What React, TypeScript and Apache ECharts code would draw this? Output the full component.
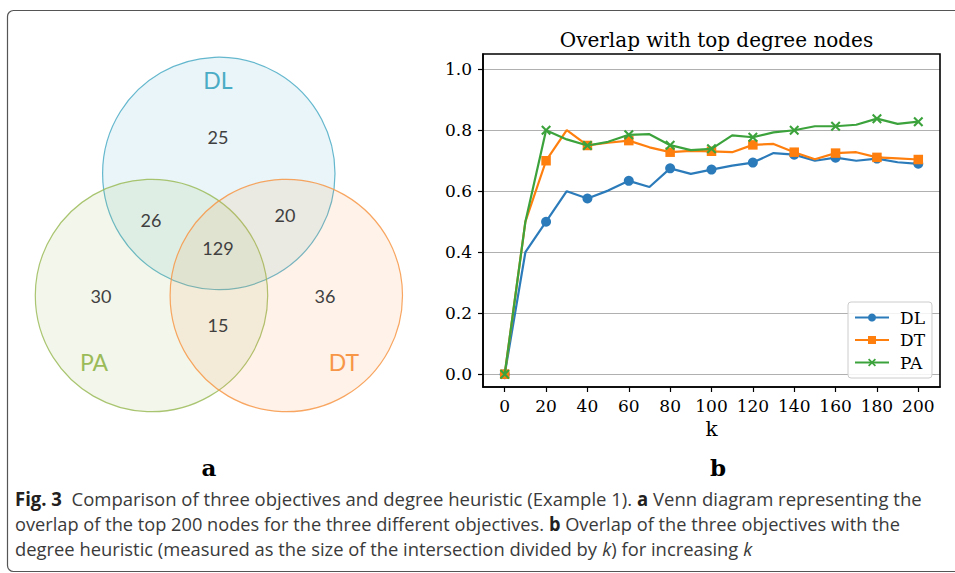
import React, { useEffect, useRef } from "react";
import * as echarts from "echarts";

// ---------- Data ----------
const kValues = [0, 10, 20, 30, 40, 50, 60, 70, 80, 90, 100, 110, 120, 130, 140, 150, 160, 170, 180, 190, 200];
const dlValues = [0, 0.4, 0.5, 0.6, 0.576, 0.602, 0.634, 0.614, 0.675, 0.657, 0.671, 0.684, 0.694, 0.725, 0.72, 0.7, 0.71, 0.7, 0.707, 0.695, 0.69];
const dtValues = [0, 0.5, 0.7, 0.8, 0.75, 0.759, 0.766, 0.744, 0.728, 0.732, 0.731, 0.728, 0.752, 0.755, 0.728, 0.705, 0.725, 0.728, 0.711, 0.708, 0.704];
const paValues = [0, 0.5, 0.8, 0.77, 0.75, 0.762, 0.785, 0.787, 0.751, 0.735, 0.739, 0.783, 0.777, 0.793, 0.8, 0.813, 0.813, 0.818, 0.838, 0.821, 0.828];
const seriesNames = ["DL", "DT", "PA"];
const xTickValues = [0, 20, 40, 60, 80, 100, 120, 140, 160, 180, 200];
const yTickValues = [0, 0.2, 0.4, 0.6, 0.8, 1.0];
const chartTitle = "Overlap with top degree nodes";
const xAxisName = "k";

const vennSetNames = ["DL", "PA", "DT"];
// regions: DL only, DL∩PA, DL∩DT, DL∩PA∩DT, PA only, DT only, PA∩DT
const vennRegionCounts = [25, 26, 20, 129, 30, 36, 15];

const captionLines: [string, string][][] = [
  [["Fig. 3", "b"], ["  Comparison of three objectives and degree heuristic (Example 1). ", "n"], ["a", "b"], [" Venn diagram representing the", "n"]],
  [["overlap of the top 200 nodes for the three different objectives. ", "n"], ["b", "b"], [" Overlap of the three objectives with the", "n"]],
  [["degree heuristic (measured as the size of the intersection divided by ", "n"], ["k", "i"], [") for increasing ", "n"], ["k", "i"]],
];

// ---------- Layout ----------
const SERIF = "DejaVu Serif";
const TICK_SIZE = 17;
const COLORS = ["#2b7bba", "#ff7f0e", "#3ca33c"];
const VENN_COLORS = ["#4bacc6", "#9bbb59", "#f79646"];
const vennCircles = [
  { cx: 218.8, cy: 173.4, r: 116.2 },
  { cx: 151.5, cy: 295.5, r: 116.2 },
  { cx: 286.3, cy: 295.5, r: 116.2 },
];
const vennSetLabelPos = [
  [218, 80],
  [94, 362],
  [344, 362],
];
const vennRegionPos = [
  [218, 137],
  [151, 220],
  [285, 215],
  [218, 248],
  [101, 296],
  [325, 296],
  [218, 325],
];
const captionTargets = [
  { x: 15, y: 498, w: 907 },
  { x: 15, y: 523, w: 885 },
  { x: 15, y: 548, w: 737 },
];
const CAPTION_FONT = "Open Sans";
const CAPTION_SIZE = 19;

const X_MARK = "path://M0,1.5 L1.5,0 L5,3.5 L8.5,0 L10,1.5 L6.5,5 L10,8.5 L8.5,10 L5,6.5 L1.5,10 L0,8.5 L3.5,5 Z";
const symbols = ["circle", "rect", X_MARK];

function measureSegs(segs: [string, string][]) {
  const ctx = document.createElement("canvas").getContext("2d")!;
  let w = 0;
  for (const [t, s] of segs) {
    const style = s === "i" ? "italic " : "";
    const weight = s === "b" ? "bold " : "";
    ctx.font = `${style}${weight}${CAPTION_SIZE}px "${CAPTION_FONT}"`;
    w += ctx.measureText(t).width;
  }
  return w;
}

export default function App() {
  const ref = useRef<HTMLDivElement>(null);
  useEffect(() => {
    if (!ref.current) return;
    const chart = echarts.init(ref.current, undefined, { renderer: "svg" });
    const allValues = [dlValues, dtValues, paValues];

    const series = allValues.map((vals, si) => ({
      name: seriesNames[si],
      type: "line",
      symbol: symbols[si],
      symbolSize: si === 2 ? 10 : si === 0 ? 10 : 9.5,
      showAllSymbol: true,
      lineStyle: { width: 2.2, color: COLORS[si] },
      itemStyle: { color: COLORS[si] },
      data: kValues.map((k, i) => ({
        value: [k, vals[i]],
        symbol: i % 2 === 0 ? symbols[si] : "none",
      })),
      z: 2 + si,
    }));

    const graphics: any[] = [];
    graphics.push({
      type: "rect",
      shape: { x: 7.5, y: 10.5, width: 1100, height: 561, r: 6 },
      style: { fill: "none", stroke: "#555", lineWidth: 1.2 },
      z: 1,
    });
    vennCircles.forEach((c, i) => {
      graphics.push({
        type: "circle",
        shape: { cx: c.cx, cy: c.cy, r: c.r },
        style: {
          fill: echarts.color.modifyAlpha(VENN_COLORS[i], 0.12),
          stroke: echarts.color.modifyAlpha(VENN_COLORS[i], 0.85),
          lineWidth: 1.2,
        },
        z: 2,
      });
    });
    vennSetNames.forEach((n, i) => {
      graphics.push({
        type: "text",
        x: vennSetLabelPos[i][0],
        y: vennSetLabelPos[i][1],
        style: { text: n, fontFamily: "Lato", fontSize: 23, fill: VENN_COLORS[i], align: "center", verticalAlign: "middle" },
        z: 5,
      });
    });
    vennRegionCounts.forEach((v, i) => {
      graphics.push({
        type: "text",
        x: vennRegionPos[i][0],
        y: vennRegionPos[i][1],
        style: { text: String(v), fontFamily: "Lato", fontSize: 18, fill: "#404040", align: "center", verticalAlign: "middle" },
        z: 5,
      });
    });
    graphics.push({
      type: "text", x: 209, y: 467,
      style: { text: "a", fontFamily: SERIF, fontWeight: "bold", fontSize: 23, fill: "#000", align: "center", verticalAlign: "middle" },
    });
    graphics.push({
      type: "text", x: 718, y: 467,
      style: { text: "b", fontFamily: SERIF, fontWeight: "bold", fontSize: 23, fill: "#000", align: "center", verticalAlign: "middle" },
    });
    graphics.push({
      type: "rect",
      shape: { x: 483, y: 54, width: 457, height: 333 },
      style: { fill: "none", stroke: "#000", lineWidth: 1.6 },
      z: 100,
    });
    const rich = {
      b: { fontFamily: CAPTION_FONT, fontSize: CAPTION_SIZE, fontWeight: "bold", fill: "#231f20" },
      n: { fontFamily: CAPTION_FONT, fontSize: CAPTION_SIZE, fill: "#3a3a3a" },
      i: { fontFamily: CAPTION_FONT, fontSize: CAPTION_SIZE, fontStyle: "italic", fill: "#3a3a3a" },
    };
    captionLines.forEach((segs, li) => {
      const t = captionTargets[li];
      const w = measureSegs(segs);
      const sx = w > 0 ? t.w / w : 1;
      graphics.push({
        type: "group",
        x: t.x,
        y: t.y,
        scaleX: sx,
        children: [
          {
            type: "text",
            style: {
              text: segs.map(([s, st]) => `{${st}|${s}}`).join(""),
              rich,
              fontFamily: CAPTION_FONT,
              fontSize: CAPTION_SIZE,
              verticalAlign: "middle",
              align: "left",
            },
          },
        ],
      });
    });

    const option: any = {
      animation: false,
      backgroundColor: "#fff",
      title: {
        text: chartTitle,
        left: 711.5,
        top: 25,
        textAlign: "center",
        textStyle: { fontFamily: SERIF, fontSize: 20, fontWeight: "normal", color: "#000" },
      },
      grid: { left: 483, top: 54, width: 457, height: 333, containLabel: false },
      legend: {
        orient: "vertical",
        left: 848,
        top: 302,
        data: seriesNames,
        itemWidth: 34,
        itemHeight: 10,
        itemGap: 5.5,
        padding: [7, 7, 7, 6],
        backgroundColor: "rgba(255,255,255,0.85)",
        borderColor: "#cccccc",
        borderWidth: 1,
        borderRadius: 3,
        textStyle: { fontFamily: SERIF, fontSize: TICK_SIZE, color: "#000", padding: [0, 0, 0, 6] },
      },
      xAxis: {
        type: "value",
        min: -10.5,
        max: 210.5,
        name: xAxisName,
        nameLocation: "middle",
        nameGap: 32,
        nameTextStyle: { fontFamily: SERIF, fontSize: 20, color: "#000" },
        axisLine: { show: true, onZero: false, lineStyle: { color: "#000", width: 1.6 } },
        axisTick: { show: true, inside: false, length: 5, lineStyle: { color: "#000", width: 1.2 }, customValues: xTickValues },
        axisLabel: { customValues: xTickValues, margin: 10, fontFamily: SERIF, fontSize: TICK_SIZE, color: "#000" },
        splitLine: { show: false },
      },
      yAxis: {
        type: "value",
        min: -0.042,
        max: 1.05,
        axisLine: { show: true, onZero: false, lineStyle: { color: "#000", width: 1.6 } },
        axisTick: { show: true, inside: false, length: 5, lineStyle: { color: "#000", width: 1.2 }, customValues: yTickValues },
        axisLabel: {
          customValues: yTickValues,
          margin: 11,
          fontFamily: SERIF,
          fontSize: TICK_SIZE,
          color: "#000",
          formatter: (v: number) => v.toFixed(1),
        },
        splitLine: { show: true, lineStyle: { color: "#b0b0b0", width: 1 } },
      },
      series,
      graphic: { elements: graphics },
    };
    chart.setOption(option);
    return () => chart.dispose();
  }, []);
  return <div ref={ref} style={{ position: "fixed", left: 0, top: 0, width: 955, height: 573 }} />;
}
